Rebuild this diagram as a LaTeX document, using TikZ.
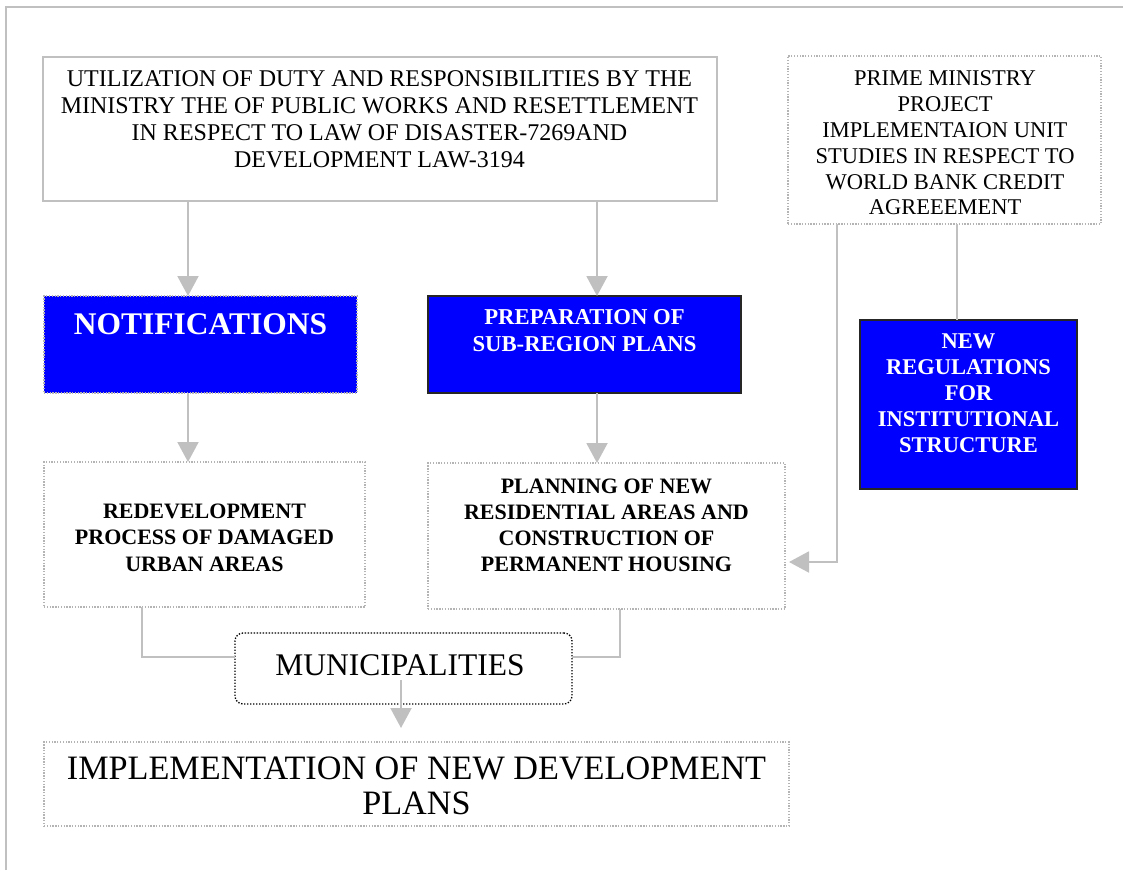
\documentclass[tikz,border=0pt]{standalone}
\usepackage{fontspec}
\setmainfont{Liberation Serif}
\usetikzlibrary{arrows.meta}
\definecolor{lg}{HTML}{C0C0C0}
\definecolor{dg}{HTML}{B4B4B4}
\definecolor{bblue}{HTML}{0000FF}
\begin{document}
\begin{tikzpicture}[x=1pt,y=-1pt,
  boxbase/.style={anchor=north west, inner sep=0pt, outer sep=0pt},
  solidgrey/.style={boxbase, draw=lg, line width=1.5pt},
  dotgrey/.style={boxbase, draw=dg, line width=1.3pt, dash pattern=on 1.3pt off 1.5pt},
  bluedot/.style={dotgrey, fill=bblue},
  blueblack/.style={boxbase, fill=bblue, draw=black!85, line width=2pt},
  rounddot/.style={boxbase, draw=black, line width=1.3pt, dash pattern=on 1.4pt off 1.6pt, rounded corners=8pt},
  txt/.style={align=center, inner sep=0pt, text=black},
  wtxt/.style={align=center, inner sep=0pt, text=white, font=\bfseries},
  conn/.style={draw=lg, line width=2pt},
  arr/.style={-{Triangle[width=21pt,length=20pt]}}
]
\useasboundingbox (0,0) rectangle (1123,870);
% page frame
\draw[lg, line width=2pt] (6,870) -- (6,7) -- (1123,7);

% boxes
\node[solidgrey, minimum width=674pt, minimum height=144pt] (A) at (43,57) {};
\node[dotgrey, minimum width=313pt, minimum height=168pt] (B) at (788,56) {};
\node[bluedot, minimum width=313pt, minimum height=97pt] (C) at (44,296) {};
\node[blueblack, minimum width=313pt, minimum height=97pt] (D) at (428,296) {};
\node[blueblack, minimum width=217pt, minimum height=169pt] (E) at (860,320) {};
\node[dotgrey, minimum width=321pt, minimum height=145pt] (F) at (44,462) {};
\node[dotgrey, minimum width=357pt, minimum height=146pt] (G) at (428,463) {};
\node[rounddot, minimum width=337pt, minimum height=71pt] (H) at (235,633) {};
\node[dotgrey, minimum width=745pt, minimum height=84pt] (I) at (44,742) {};

% texts
\node[txt, font=\fontsize{24}{27}\selectfont] (At) at (379.5,119)
  {UTILIZATION OF DUTY AND RESPONSIBILITIES BY THE\\MINISTRY THE OF PUBLIC WORKS AND RESETTLEMENT\\IN RESPECT TO LAW OF DISASTER-7269AND\\DEVELOPMENT LAW-3194};
\node[txt, font=\fontsize{22.5}{25.8}\selectfont] (Bt) at (945,143)
  {PRIME MINISTRY\\PROJECT\\IMPLEMENTAION UNIT\\STUDIES IN RESPECT TO\\WORLD BANK CREDIT\\AGREEEMENT};
\node[wtxt, font=\bfseries\fontsize{31.5}{36}\selectfont] (Ct) at (200.5,324) {NOTIFICATIONS};
\node[wtxt, font=\bfseries\fontsize{22.7}{27}\selectfont] (Dt) at (584.5,330.5) {PREPARATION OF\\SUB-REGION PLANS};
\node[wtxt, font=\bfseries\fontsize{22.5}{26}\selectfont] (Et) at (968.5,393.5) {NEW\\REGULATIONS\\FOR\\INSTITUTIONAL\\STRUCTURE};
\node[txt, font=\bfseries\fontsize{22}{26.5}\selectfont] (Ft) at (204.5,537.5) {REDEVELOPMENT\\PROCESS OF DAMAGED\\URBAN AREAS};
\node[txt, font=\bfseries\fontsize{22}{26}\selectfont] (Gt) at (606.5,525.5) {PLANNING OF NEW\\RESIDENTIAL AREAS AND\\CONSTRUCTION OF\\PERMANENT HOUSING};
\node[txt, font=\fontsize{31.5}{36}\selectfont] (Ht) at (400,665) {MUNICIPALITIES};
\node[txt, font=\fontsize{34.2}{35.5}\selectfont] (It) at (416.5,786) {IMPLEMENTATION OF NEW DEVELOPMENT\\PLANS};

% helper coordinates
\coordinate (xAC) at (188,0);
\coordinate (xAD) at (597,0);
\coordinate (xBG) at (837,0);
\coordinate (xBE) at (957,0);
\coordinate (xFH) at (142,0);
\coordinate (xGH) at (620,0);
\coordinate (xHI) at (401,0);
\coordinate (yH) at (0,657);
\coordinate (yGB) at (0,562);
\coordinate (hs) at (401,680);

% connectors
\draw[conn, arr] (A.south -| xAC) -- (C.north -| xAC);
\draw[conn, arr] (A.south -| xAD) -- (D.north -| xAD);
\draw[conn, arr] (C.south -| xAC) -- (F.north -| xAC);
\draw[conn, arr] (D.south -| xAD) -- (G.north -| xAD);
\draw[conn] (B.south -| xBE) -- (E.north -| xBE);
\draw[conn, arr, shorten >=4pt] (B.south -| xBG) |- (G.east |- yGB);
\draw[conn] (F.south -| xFH) |- (H.west |- yH);
\draw[conn] (G.south -| xGH) |- (H.east |- yH);
\draw[conn, arr, shorten >=14pt] (hs) -- (I.north -| xHI);
\end{tikzpicture}
\end{document}
